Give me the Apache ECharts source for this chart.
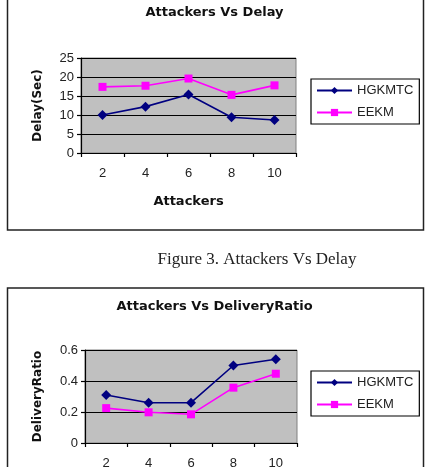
<!DOCTYPE html>
<html>
<head>
<meta charset="utf-8">
<script src="https://cdn.jsdelivr.net/npm/echarts@6/dist/echarts.min.js"></script>
<style>
  html, body { margin: 0; padding: 0; background: #fff; }
  #chart { width: 429px; height: 467px; }
</style>
</head>
<body>
<div id="chart"></div>
<script>
// data
const attackers = ['2', '4', '6', '8', '10']
const delayHgkmtc = [10, 12.2, 15.4, 9.4, 8.7]
const delayEekm = [17.4, 17.7, 19.6, 15.3, 17.8]
const ratioHgkmtc = [0.31, 0.26, 0.26, 0.5, 0.54]
const ratioEekm = [0.225, 0.198, 0.185, 0.357, 0.447]
const seriesNames = ['HGKMTC', 'EEKM']

const sans = 'Liberation Sans, Arial, sans-serif'
const boldFont = 'DejaVu Sans'

const chart = echarts.init(document.getElementById('chart'), null, { renderer: 'canvas' })

function xAxisFor(gridIndex) {
  return {
    type: 'category',
    gridIndex,
    data: attackers,
    boundaryGap: true,
    name: 'Attackers',
    nameLocation: 'middle',
    nameGap: 42,
    nameTextStyle: { fontFamily: boldFont, fontWeight: 'bold', fontSize: 13, color: '#111' },
    axisLine: { lineStyle: { color: '#000', width: 1.2 } },
    axisTick: { show: true, length: 4, lineStyle: { color: '#000', width: 1.2 } },
    axisLabel: { margin: 14, fontFamily: sans, fontSize: 13, color: '#222' },
    splitLine: { show: false }
  }
}

function yAxisFor(gridIndex, name, max, interval, nameGap) {
  return {
    type: 'value',
    gridIndex,
    min: 0,
    max,
    interval,
    name,
    nameLocation: 'middle',
    nameGap,
    nameTextStyle: { fontFamily: boldFont, fontWeight: 'bold', fontSize: 12, color: '#111' },
    axisLine: { show: true, lineStyle: { color: '#000', width: 1.2 } },
    axisTick: { show: true, length: 4, lineStyle: { color: '#000', width: 1.2 } },
    axisLabel: { margin: 7, fontFamily: sans, fontSize: 13, color: '#222' },
    splitLine: { show: true, lineStyle: { color: '#000', width: 1.2 } }
  }
}

function lineSeries(name, data, idx, color, symbol, size) {
  return {
    name,
    type: 'line',
    xAxisIndex: idx,
    yAxisIndex: idx,
    data,
    symbol,
    symbolSize: size,
    lineStyle: { color, width: 1.6 },
    itemStyle: { color },
    animation: false
  }
}

function legendAt(top) {
  return {
    orient: 'vertical',
    left: 311,
    top,
    data: seriesNames,
    backgroundColor: '#fff',
    borderColor: '#000',
    borderWidth: 1.2,
    borderRadius: 0,
    padding: [5, 6, 5, 5],
    itemGap: 9,
    itemWidth: 35,
    itemHeight: 9,
    textStyle: { fontFamily: sans, fontSize: 13, color: '#222' }
  }
}

const gridBase = {
  show: true,
  backgroundColor: '#c0c0c0',
  borderColor: '#808080',
  borderWidth: 1,
  containLabel: false,
  outerBoundsMode: 'none'
}

chart.setOption({
  backgroundColor: '#fff',
  title: [
    {
      text: 'Attackers Vs Delay',
      left: 'center',
      top: 6,
      padding: 0,
      textStyle: { fontFamily: boldFont, fontWeight: 'bold', fontSize: 13, color: '#111' }
    },
    {
      text: 'Attackers Vs DeliveryRatio',
      left: 'center',
      top: 300,
      padding: 0,
      textStyle: { fontFamily: boldFont, fontWeight: 'bold', fontSize: 13, color: '#111' }
    }
  ],
  legend: [legendAt(79), legendAt(371)],
  grid: [
    Object.assign({ left: 81, top: 58, width: 215, height: 95 }, gridBase),
    Object.assign({ left: 85, top: 350, width: 212, height: 93 }, gridBase)
  ],
  xAxis: [xAxisFor(0), xAxisFor(1)],
  yAxis: [
    yAxisFor(0, 'Delay(Sec)', 25, 5, 37),
    yAxisFor(1, 'DeliveryRatio', 0.6, 0.2, 41)
  ],
  series: [
    lineSeries('HGKMTC', delayHgkmtc, 0, '#000080', 'diamond', 10),
    lineSeries('EEKM', delayEekm, 0, '#ff00ff', 'rect', 8),
    lineSeries('HGKMTC', ratioHgkmtc, 1, '#000080', 'diamond', 10),
    lineSeries('EEKM', ratioEekm, 1, '#ff00ff', 'rect', 8)
  ],
  graphic: [
    {
      type: 'rect',
      shape: { x: 7.5, y: -5, width: 416, height: 235 },
      style: { fill: null, stroke: '#222', lineWidth: 1.5 },
      silent: true
    },
    {
      type: 'rect',
      shape: { x: 7.5, y: 288, width: 416, height: 200 },
      style: { fill: null, stroke: '#222', lineWidth: 1.5 },
      silent: true
    },
    {
      type: 'text',
      x: 257,
      y: 260,
      style: {
        text: 'Figure 3. Attackers Vs Delay',
        font: '17px "Liberation Serif", "Times New Roman", serif',
        fill: '#222',
        textAlign: 'center',
        textVerticalAlign: 'middle'
      },
      silent: true
    }
  ]
})
</script>
</body>
</html>
